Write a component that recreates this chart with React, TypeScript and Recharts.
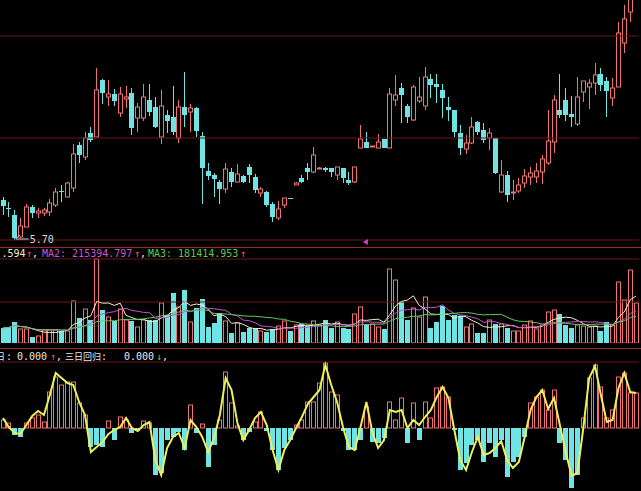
import React from "react";
import {
  ComposedChart,
  Bar,
  Line,
  XAxis,
  YAxis,
  ReferenceLine,
  ReferenceDot,
} from "recharts";

// daily candles, left to right
const opens = [
  6.1, 6.02, 5.95, 5.73, 5.83, 6.03, 5.97, 5.97, 5.98, 6.05,
  6.19, 6.13, 6.22, 6.65, 6.53, 6.77, 6.73, 7.3, 7.13, 7.16,
  6.97, 7.11, 7.17, 6.92, 6.92, 7.1, 7.03, 6.73, 6.95, 6.93,
  6.72, 7.03, 6.98, 7.02, 6.74, 6.39, 6.35, 6.28, 6.21, 6.38,
  6.28, 6.34, 6.43, 6.33, 6.17, 6.18, 6.06, 5.92, 6.05, 6.12,
  6.25, 6.32, 6.42, 6.38, 6.42, 6.42, 6.42, 6.35, 6.42, 6.3,
  6.28, 6.62, 6.68, 6.63, 6.62, 6.71, 6.62, 7.1, 7.22, 7.04,
  6.9, 7.09, 7.04, 7.31, 7.26, 7.2, 7.03, 7.0, 6.77, 6.61,
  6.67, 6.88, 6.8, 6.72, 6.72, 6.18, 6.35, 6.17, 6.19, 6.27,
  6.33, 6.33, 6.38, 6.47, 6.68, 7.0, 7.1, 6.96, 6.86, 7.18,
  7.23, 7.27, 7.36, 7.29, 7.12, 7.23, 7.67, 7.98, 8.15,
];
const closes = [
  6.04, 6.01, 5.72, 5.84, 6.03, 5.97, 5.99, 6.0, 6.07, 6.18,
  6.18, 6.27, 6.56, 6.55, 6.72, 6.7, 7.2, 7.17, 7.16, 7.09,
  7.16, 7.13, 6.82, 7.03, 7.13, 6.98, 6.83, 7.04, 6.89, 6.78,
  7.03, 6.95, 7.02, 6.79, 6.42, 6.34, 6.31, 6.21, 6.41, 6.28,
  6.36, 6.28, 6.35, 6.2, 6.21, 6.05, 5.93, 6.01, 6.12, 6.11,
  6.27, 6.28, 6.38, 6.55, 6.42, 6.4, 6.38, 6.43, 6.32, 6.27,
  6.43, 6.71, 6.62, 6.64, 6.68, 6.62, 7.16, 7.15, 7.15, 6.93,
  7.23, 7.13, 7.33, 7.25, 7.23, 7.12, 7.0, 6.78, 6.62, 6.67,
  6.83, 6.78, 6.7, 6.77, 6.37, 6.35, 6.15, 6.18, 6.25, 6.34,
  6.37, 6.39, 6.51, 6.69, 7.1, 6.95, 6.95, 6.93, 7.13, 7.29,
  7.27, 7.35, 7.25, 7.19, 7.22, 7.77, 7.91, 8.18, 8.4,
];
const highs = [
  6.13, 6.08, 6.0, 5.92, 6.06, 6.05, 6.02, 6.02, 6.11, 6.22,
  6.25, 6.28, 6.66, 6.68, 6.78, 6.83, 7.42, 7.31, 7.3, 7.21,
  7.23, 7.24, 7.22, 7.07, 7.26, 7.26, 7.13, 7.2, 7.0, 7.24,
  7.1, 7.38, 7.06, 7.03, 6.78, 6.47, 6.37, 6.3, 6.47, 6.42,
  6.46, 6.35, 6.46, 6.36, 6.23, 6.19, 6.08, 6.09, 6.12, 6.12,
  6.28, 6.35, 6.47, 6.63, 6.43, 6.43, 6.42, 6.43, 6.42, 6.38,
  6.43, 6.85, 6.78, 6.64, 6.76, 6.71, 7.22, 7.35, 7.27, 7.06,
  7.25, 7.33, 7.43, 7.36, 7.36, 7.26, 7.13, 7.0, 6.85, 6.75,
  6.93, 6.89, 6.87, 6.82, 6.72, 6.5, 6.39, 6.3, 6.32, 6.41,
  6.43, 6.47, 6.55, 7.0, 7.15, 7.36, 7.22, 7.14, 7.33, 7.29,
  7.31, 7.47, 7.42, 7.33, 7.32, 7.88, 8.05, 8.25, 8.45,
];
const lows = [
  5.95, 5.93, 5.7, 5.72, 5.83, 5.92, 5.92, 5.94, 5.94, 6.03,
  6.08, 6.13, 6.18, 6.47, 6.5, 6.68, 6.73, 7.06, 7.04, 7.04,
  6.93, 7.02, 6.75, 6.78, 6.89, 6.94, 6.82, 6.66, 6.77, 6.75,
  6.67, 6.83, 6.78, 6.73, 6.06, 6.3, 6.13, 6.06, 6.17, 6.23,
  6.28, 6.27, 6.27, 6.17, 6.13, 6.03, 5.88, 5.9, 6.02, 6.11,
  6.25, 6.27, 6.3, 6.37, 6.41, 6.38, 6.33, 6.3, 6.27, 6.25,
  6.27, 6.62, 6.62, 6.63, 6.62, 6.62, 6.62, 7.04, 6.87, 6.87,
  6.89, 7.07, 7.0, 7.12, 7.07, 6.92, 6.89, 6.73, 6.55, 6.56,
  6.66, 6.75, 6.67, 6.6, 6.36, 6.17, 6.08, 6.1, 6.17, 6.22,
  6.25, 6.27, 6.26, 6.45, 6.57, 6.92, 6.89, 6.83, 6.84, 7.08,
  7.01, 7.15, 7.19, 6.93, 7.04, 7.23, 7.57, 7.88, 8.12,
];
const volumes = [
  105000, 112000, 147000, 98000, 98000, 42000, 49000, 91000, 91000, 91000,
  84000, 84000, 294000, 175000, 238000, 161000, 588000, 231000, 182000, 154000,
  238000, 161000, 154000, 112000, 161000, 161000, 161000, 280000, 196000, 350000,
  252000, 371000, 147000, 245000, 308000, 112000, 140000, 210000, 154000, 70000,
  140000, 77000, 105000, 105000, 84000, 77000, 98000, 119000, 154000, 84000,
  126000, 133000, 119000, 154000, 126000, 161000, 105000, 147000, 105000, 98000,
  203000, 252000, 133000, 133000, 112000, 98000, 518000, 441000, 287000, 161000,
  245000, 182000, 322000, 105000, 147000, 259000, 161000, 196000, 189000, 112000,
  133000, 70000, 70000, 161000, 133000, 133000, 105000, 84000, 84000, 126000,
  154000, 98000, 126000, 217000, 231000, 203000, 126000, 105000, 126000, 119000,
  112000, 119000, 84000, 147000, 126000, 427000, 301000, 511000, 280000,
];
// lower indicator: bars and the yellow line
const oscBars = [
  8, 5, -7, -9, 5, 10, 13, 6, 36, 51,
  43, 46, 46, 25, 13, -19, -17, -19, 7, -12,
  11, 8, -5, -3, 7, 5, -47, -45, -12, -9,
  -4, -22, 23, -5, 4, -39, -17, 8, 56, 25,
  2, -12, -4, 6, 16, -3, -22, -42, -20, -12,
  3, 8, 26, 26, 45, 65, 36, 33, -3, -22,
  -22, -12, 21, -14, -15, -10, 26, 8, 30, -15,
  25, -12, 26, 10, 40, 41, 31, -2, -42, -35,
  -17, -12, -34, -15, -29, -12, -49, -34, -29, -9,
  25, 31, 38, 18, 38, -15, -32, -60, -47, 10,
  50, 63, 41, 10, 18, 51, 55, 35, 35,
];
const oscLine = [
  10, 1, -5, -6, 3, 12, 17, 13, 33, 55,
  50, 45, 43, 26, 13, -24, -19, -14, -6, -2,
  1, 10, 0, -3, 3, 6, -32, -47, -20, -9,
  -5, -20, 8, 1, -9, -24, -10, 13, 50, 38,
  5, -12, -2, 10, 16, 3, -22, -42, -22, -12,
  0, 11, 24, 31, 38, 63, 43, 26, 1, -19,
  -22, 1, 26, -4, -20, -12, 18, 16, 18, 0,
  8, 3, 11, 18, 31, 41, 30, -2, -32, -42,
  -24, -9, -27, -25, -20, -13, -32, -40, -34, -9,
  18, 31, 38, 19, 30, 3, -24, -48, -45, 0,
  50, 62, 33, 6, 8, 40, 55, 36, 35,
];

const RED = "#f07272";
const CYAN = "#6ee4e4";
const GRID = "#6a1818";
const EDGE = "#a02828";
const MONO = "'DejaVu Sans Mono', monospace";
const CJK = "'Noto Sans CJK SC', sans-serif";

// volume moving averages, as the chart software draws them
const movingAvg = (arr: number[], n: number) =>
  arr.map((_, i) => {
    const s = arr.slice(Math.max(0, i - n + 1), i + 1);
    return s.reduce((a, b) => a + b, 0) / s.length;
  });
const ma5 = movingAvg(volumes, 5);
const ma10 = movingAvg(volumes, 10);
const ma20 = movingAvg(volumes, 20);

const data = opens.map((open, i) => ({
  i,
  open,
  close: closes[i],
  high: highs[i],
  low: lows[i],
  vol: volumes[i],
  ma5: ma5[i],
  ma10: ma10[i],
  ma20: ma20[i],
  osc: oscBars[i],
  sig: oscLine[i],
}));

function Candle(props: any) {
  const { x, y, width, height, payload } = props;
  if (x == null || y == null) return null;
  const { open, close, high, low } = payload;
  const yHi = Math.min(y, y + height);
  const yLo = Math.max(y, y + height);
  const k = high > low ? (yLo - yHi) / (high - low) : 0;
  const py = (v: number) => yHi + (high - v) * k;
  const up = close >= open;
  const color = up ? RED : CYAN;
  const cx = Math.round(x + width / 2) + 0.5;
  const bTop = py(Math.max(open, close));
  const bh = Math.max(py(Math.min(open, close)) - bTop, 1);
  return (
    <g>
      <line x1={cx} x2={cx} y1={yHi} y2={yLo} stroke={color} />
      {up ? (
        <rect x={cx - 2} y={bTop} width={4} height={bh} fill="#000" stroke={color} />
      ) : (
        <rect x={cx - 2.5} y={bTop} width={5} height={bh} fill={color} />
      )}
    </g>
  );
}

function VolBar(props: any) {
  const { x, y, width, height, payload } = props;
  if (x == null || y == null) return null;
  const cx = Math.round(x + width / 2) + 0.5;
  const top = Math.min(y, y + height);
  const h = Math.abs(height);
  if (payload.close >= payload.open)
    return <rect x={cx - 2} y={top} width={4} height={h} fill="none" stroke={RED} />;
  return <rect x={cx - 2.5} y={top} width={5} height={h} fill={CYAN} />;
}

function OscBar(props: any) {
  const { x, y, width, height, payload } = props;
  if (x == null || y == null) return null;
  const cx = Math.round(x + width / 2) + 0.5;
  const top = Math.min(y, y + height);
  const h = Math.abs(height);
  if (payload.osc >= 0)
    return <rect x={cx - 2} y={top} width={4} height={h} fill="none" stroke={RED} />;
  return <rect x={cx - 2.5} y={top} width={5} height={h} fill={CYAN} />;
}

const LowMark = (p: any) => (
  <g>
    <line x1={p.cx + 1} y1={p.cy - 1} x2={p.cx + 14} y2={p.cy - 1} stroke="#cfcfcf" />
    <polyline points={`${p.cx + 5},${p.cy - 5} ${p.cx + 1},${p.cy - 1}`} fill="none" stroke="#cfcfcf" />
    <text x={p.cx + 15} y={p.cy + 3} fill="#d8d8d8" fontSize={10} fontFamily={MONO}>
      5.70
    </text>
  </g>
);

const Marker = (p: any) => (
  <polygon
    points={`${p.cx - 3.5},${p.cy} ${p.cx + 1.5},${p.cy - 3} ${p.cx + 1.5},${p.cy + 3}`}
    fill="#d040d0"
  />
);

const margin = { top: 0, right: 2, left: 0, bottom: 0 };
const abs = (top: number): React.CSSProperties => ({ position: "absolute", left: 0, top });

export default function App() {
  return (
    <div
      style={{
        position: "absolute",
        left: 0,
        top: 0,
        width: 641,
        height: 491,
        background: "#000",
        overflow: "hidden",
      }}
    >
      <div style={abs(0)}>
        <ComposedChart width={641} height={248} data={data} margin={{ ...margin, bottom: 8 }}>
          <XAxis dataKey="i" type="category" hide />
          <YAxis hide domain={[5.7, 8.1]} allowDataOverflow />
          <ReferenceLine y={7.74} stroke={GRID} />
          <ReferenceLine y={6.72} stroke={GRID} />
          <ReferenceLine y={5.7} stroke={GRID} />
          <Bar
            dataKey={(d: any) => [d.low, d.high]}
            barSize={5}
            shape={Candle}
            isAnimationActive={false}
          />
          <ReferenceDot x={2} y={5.7} shape={LowMark} />
          <ReferenceDot x={62} y={5.68} shape={Marker} ifOverflow="visible" />
        </ComposedChart>
      </div>

      <div style={{ ...abs(247), width: 641, height: 1, background: EDGE }} />

      <div style={abs(248)}>
        <ComposedChart width={641} height={100} data={data} margin={{ ...margin, bottom: 5 }}>
          <XAxis dataKey="i" type="category" hide />
          <YAxis hide domain={[0, 665000]} allowDataOverflow />
          <ReferenceLine y={588000} stroke={GRID} />
          <ReferenceLine y={287000} stroke={GRID} />
          <Bar dataKey="vol" barSize={5} shape={VolBar} isAnimationActive={false} />
          <Line dataKey="ma5" stroke="#f2eec4" dot={false} strokeWidth={1} isAnimationActive={false} />
          <Line dataKey="ma10" stroke="#c454cc" dot={false} strokeWidth={1} isAnimationActive={false} />
          <Line dataKey="ma20" stroke="#62c862" dot={false} strokeWidth={1} isAnimationActive={false} />
        </ComposedChart>
      </div>

      <div style={{ ...abs(348), width: 641, height: 1, background: EDGE }} />

      <div style={abs(349)}>
        <ComposedChart width={641} height={142} data={data} margin={margin}>
          <XAxis dataKey="i" type="category" hide />
          <YAxis hide domain={[-63, 79]} allowDataOverflow />
          <ReferenceLine y={66} stroke={GRID} />
          <Bar dataKey="osc" barSize={5} shape={OscBar} isAnimationActive={false} />
          <Line
            dataKey="sig"
            stroke="#eeee5a"
            strokeWidth={2}
            dot={false}
            type="linear"
            isAnimationActive={false}
          />
        </ComposedChart>
      </div>

      <svg width={641} height={491} style={{ ...abs(0), pointerEvents: "none" }}>
        <g fontFamily={MONO} fontSize={10}>
          <text x={1.5} y={257} fill="#f0ecc8">.594</text>
          <text x={26} y={257} fill="#ff5a5a">↑</text>
          <text x={32} y={257} fill="#e8e8e8">,</text>
          <text x={42} y={257} fill="#cc55cc">MA2: 215394.797</text>
          <text x={134} y={257} fill="#ff5a5a">↑</text>
          <text x={140} y={257} fill="#e8e8e8">,</text>
          <text x={148} y={257} fill="#55cc55">MA3: 181414.953</text>
          <text x={240} y={257} fill="#ff5a5a">↑</text>
        </g>
        <g fontSize={10} fill="#e8e8e8">
          <text x={-4} y={360} fontFamily={CJK} fontSize={9}>日</text>
          <text x={6} y={360} fontFamily={MONO}>:</text>
          <text x={17} y={360} fontFamily={MONO}>0.000</text>
          <text x={50} y={360} fontFamily={MONO} fill="#ff5a5a">↑</text>
          <text x={56} y={360} fontFamily={MONO}>,</text>
          <text x={65} y={360} fontFamily={CJK} fontSize={9}>三日回归</text>
          <text x={101} y={360} fontFamily={MONO}>:</text>
          <text x={124} y={360} fontFamily={MONO}>0.000</text>
          <text x={156} y={360} fontFamily={MONO} fill="#55dd55">↓</text>
          <text x={162} y={360} fontFamily={MONO}>,</text>
        </g>
      </svg>
    </div>
  );
}
